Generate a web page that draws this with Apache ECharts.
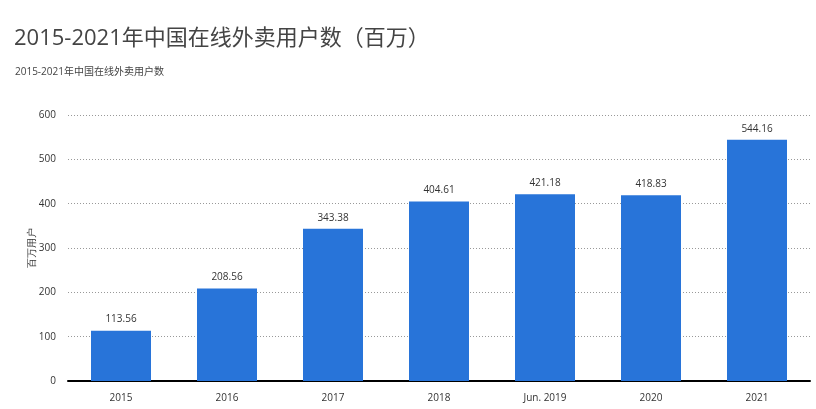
<!DOCTYPE html>
<html><head><meta charset="utf-8">
<script src="https://cdn.jsdelivr.net/npm/echarts@6/dist/echarts.min.js"></script>
<style>html,body{margin:0;padding:0;background:#fff}#c{width:816px;height:409px}</style>
</head><body><div id="c"></div>
<script>
const categories = ['2015','2016','2017','2018','Jun. 2019','2020','2021'];
const users = [113.56, 208.56, 343.38, 404.61, 421.18, 418.83, 544.16];
const yTicks = {min: 0, max: 600, interval: 100};

const chart = echarts.init(document.getElementById('c'));
chart.setOption({
  animation: false,
  title: [
    {text: '2015-2021年中国在线外卖用户数（百万）', left: 9, top: 23,
     textStyle: {fontSize: 22, fontWeight: 'normal', color: '#444', fontFamily: '"Open Sans","Noto Sans CJK SC",sans-serif'}},
    {text: '2015-2021年中国在线外卖用户数', left: 10, top: 62,
     textStyle: {fontSize: 10, fontWeight: 'normal', color: '#444', fontFamily: '"Open Sans","Noto Sans CJK SC",sans-serif'}}
  ],
  grid: {left: 68, right: 6, top: 115, bottom: 28},
  xAxis: {
    type: 'category', data: categories,
    axisLine: {lineStyle: {color: '#000', width: 2}},
    axisTick: {show: false},
    axisLabel: {color: '#333', fontSize: 10, margin: 12, fontFamily: '"Open Sans",sans-serif'}
  },
  yAxis: {
    type: 'value', min: yTicks.min, max: yTicks.max, interval: yTicks.interval,
    name: '百万用户', nameLocation: 'middle', nameGap: 36, nameRotate: 90, nameMoveOverlap: false,
    nameTextStyle: {fontSize: 10, color: '#333', fontFamily: 'serif', verticalAlign: 'middle'},
    axisLine: {show: false}, axisTick: {show: false},
    axisLabel: {color: '#333', fontSize: 10, margin: 12, fontFamily: '"Open Sans",sans-serif'},
    splitLine: {lineStyle: {color: '#999', type: [1, 2], width: 1}}
  },
  series: [{
    type: 'bar', data: users, barWidth: 60,
    itemStyle: {color: '#2874d9'},
    label: {show: true, position: 'top', distance: 6, color: '#333', fontSize: 10, fontFamily: '"Open Sans",sans-serif',
      formatter: p => p.value.toFixed(2)}
  }]
});
</script></body></html>
